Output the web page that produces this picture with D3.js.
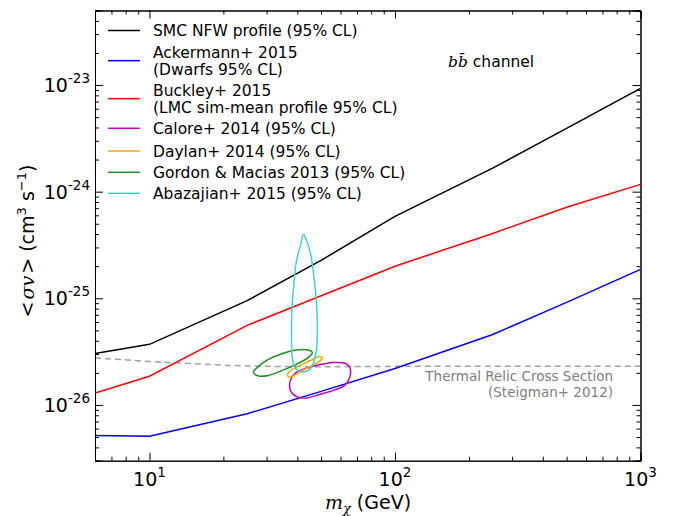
<!DOCTYPE html>
<html><head><meta charset="utf-8">
<script src="https://cdn.jsdelivr.net/npm/d3@7"></script>
<style>body{margin:0;background:#fff} text{font-family:"DejaVu Sans",sans-serif;fill:#000}</style>
</head><body><svg id="c" width="678" height="516"></svg>
<script>
// ---- data ----
const xTickValues = [10, 100, 1000];
const xTickExponents = ["1", "2", "3"];
const yTickValues = [1e-26, 1e-25, 1e-24, 1e-23];
const yTickExponents = ["-26", "-25", "-24", "-23"];

const smcMass  = [6, 10, 25, 50, 100, 250, 500, 1000];
const smcSigma = [3.04e-26, 3.7e-26, 9.5e-26, 2.27e-25, 5.86e-25, 1.66e-24, 3.93e-24, 9.3e-24];

const ackermannMass  = [6, 10, 25, 50, 100, 250, 500, 1000];
const ackermannSigma = [5.18e-27, 5.1e-27, 8.27e-27, 1.34e-26, 2.2e-26, 4.58e-26, 9.15e-26, 1.87e-25];

const buckleyMass  = [6, 10, 25, 100, 250, 500, 1000];
const buckleySigma = [1.29e-26, 1.86e-26, 5.57e-26, 2.0e-25, 4.06e-25, 7.13e-25, 1.17e-24];

const relicMass  = [6, 10, 20, 30, 50, 100, 1000];
const relicSigma = [2.77e-26, 2.55e-26, 2.36e-26, 2.3e-26, 2.28e-26, 2.3e-26, 2.3e-26];

const caloreMass  = [37.5, 39.6, 43.2, 48.7, 56.1, 62.8, 65.5, 65.2, 62.2, 56.1, 49.6, 43.2, 39.6, 37.5];
const caloreSigma = [1.70e-26, 2.02e-26, 2.20e-26, 2.37e-26, 2.50e-26, 2.45e-26, 2.25e-26, 1.77e-26, 1.52e-26, 1.37e-26, 1.26e-26, 1.16e-26, 1.20e-26, 1.37e-26];

const daylanMass  = [36.5, 38.2, 41.9, 46.1, 49.2, 50.6, 49.2, 45.2, 41.2, 38.2, 36.8];
const daylanSigma = [1.93e-26, 2.15e-26, 2.40e-26, 2.67e-26, 2.85e-26, 2.76e-26, 2.56e-26, 2.30e-26, 2.06e-26, 1.85e-26, 1.83e-26];

const gordonMass  = [26.5, 27.8, 30.5, 34.8, 39.6, 44.4, 46.1, 44.4, 39.6, 34.8, 30.5, 27.8];
const gordonSigma = [2.02e-26, 2.30e-26, 2.67e-26, 3.04e-26, 3.28e-26, 3.28e-26, 3.11e-26, 2.79e-26, 2.40e-26, 2.11e-26, 1.89e-26, 1.87e-26];

const abazajianMass  = [42.4, 41.2, 39.6, 38.7, 38.0, 37.9, 38.1, 38.9, 41.2, 45.2, 47.8, 48.3, 47.8, 46.5, 45.2, 43.6];
const abazajianSigma = [3.97e-25, 3.13e-25, 2.17e-25, 1.32e-25, 7.69e-26, 4.49e-26, 2.91e-26, 2.30e-26, 2.05e-26, 2.18e-26, 3.24e-26, 5.0e-26, 9.55e-26, 1.75e-25, 2.7e-25, 3.49e-25];

const legendLabels = [
  ["SMC NFW profile (95% CL)"],
  ["Ackermann+ 2015", "(Dwarfs 95% CL)"],
  ["Buckley+ 2015", "(LMC sim-mean profile 95% CL)"],
  ["Calore+ 2014 (95% CL)"],
  ["Daylan+ 2014 (95% CL)"],
  ["Gordon & Macias 2013 (95% CL)"],
  ["Abazajian+ 2015 (95% CL)"]
];
const seriesColors = ["#000000", "#0000ff", "#ff0000", "#bf00bf", "#ffa500", "#1f8f1f", "#40d0d0"];

// ---- chart ----
const svg = d3.select("#c");
const L = 95, R = 640.5, T = 10.5, B = 460.7;
const x = d3.scaleLog().domain([6, 1000]).range([L, R]);
const y = d3.scaleLog().domain([3e-27, 5e-23]).range([B, T]);

svg.append("defs").append("clipPath").attr("id", "clip")
  .append("rect").attr("x", L).attr("y", T).attr("width", R - L).attr("height", B - T);

const zip = (a, b) => a.map((v, i) => [v, b[i]]);
const line = d3.line().x(d => x(d[0])).y(d => y(d[1]));
const closed = d3.line().x(d => x(d[0])).y(d => y(d[1])).curve(d3.curveCatmullRomClosed.alpha(0.5));

const plot = svg.append("g").attr("clip-path", "url(#clip)");

plot.append("path").attr("d", line(zip(relicMass, relicSigma)))
  .attr("fill", "none").attr("stroke", "#a0a0a0").attr("stroke-width", 1.5).attr("stroke-dasharray", "6,4");

const lineSeries = [[smcMass, smcSigma, 0], [ackermannMass, ackermannSigma, 1], [buckleyMass, buckleySigma, 2]];
lineSeries.forEach(([m, s, c]) => {
  plot.append("path").attr("d", line(zip(m, s)))
    .attr("fill", "none").attr("stroke", seriesColors[c]).attr("stroke-width", 1.5);
});
const contours = [[caloreMass, caloreSigma, 3], [daylanMass, daylanSigma, 4], [gordonMass, gordonSigma, 5], [abazajianMass, abazajianSigma, 6]];
contours.forEach(([m, s, c]) => {
  plot.append("path").attr("d", closed(zip(m, s)))
    .attr("fill", "none").attr("stroke", seriesColors[c]).attr("stroke-width", 1.5);
});

// axes (inward ticks on all sides)
const xMinor = x.ticks().filter(v => !xTickValues.some(t => Math.abs(t - v) / t < 1e-6));
const yMinor = y.ticks().filter(v => !yTickValues.some(t => Math.abs(t - v) / t < 1e-6));
function addAxis(gen, scale, majors, minors, tx, ty) {
  const g1 = svg.append("g").attr("transform", `translate(${tx},${ty})`)
    .call(gen(scale).tickValues(majors).tickSize(-8).tickFormat(""));
  const g2 = svg.append("g").attr("transform", `translate(${tx},${ty})`)
    .call(gen(scale).tickValues(minors).tickSize(-4).tickFormat(""));
  [g1, g2].forEach(g => {
    g.select(".domain").attr("stroke", "#000").attr("stroke-width", 1);
    g.selectAll(".tick line").attr("stroke", "#000").attr("stroke-width", 1);
  });
}
addAxis(d3.axisBottom, x, xTickValues, xMinor, 0, B);
addAxis(d3.axisTop, x, xTickValues, xMinor, 0, T);
addAxis(d3.axisLeft, y, yTickValues, yMinor, L, 0);
addAxis(d3.axisRight, y, yTickValues, yMinor, R, 0);

// tick labels
xTickValues.forEach((v, i) => {
  const t = svg.append("text").attr("x", x(v)).attr("y", 486).attr("text-anchor", "middle").attr("font-size", 19);
  t.append("tspan").text("10");
  t.append("tspan").attr("dy", -9).attr("font-size", 13.5).text(xTickExponents[i]);
});
yTickValues.forEach((v, i) => {
  const t = svg.append("text").attr("x", 90).attr("y", y(v) + 7).attr("text-anchor", "end").attr("font-size", 19);
  t.append("tspan").text("10");
  t.append("tspan").attr("dy", -9).attr("font-size", 13.5).text(yTickExponents[i]);
});

// axis labels
const xl = svg.append("text").attr("x", 368).attr("y", 509).attr("text-anchor", "middle").attr("font-size", 19);
xl.append("tspan").attr("font-family", "DejaVu Serif").attr("font-style", "italic").text("m");
xl.append("tspan").attr("font-family", "DejaVu Serif").attr("font-style", "italic").attr("font-size", 13).attr("dy", 4).text("χ");
xl.append("tspan").attr("dy", -4).text(" (GeV)");

const yl = svg.append("text").attr("transform", "translate(34,241) rotate(-90)").attr("text-anchor", "middle").attr("font-size", 19);
yl.append("tspan").text("<");
yl.append("tspan").attr("dx", 2).attr("font-family", "DejaVu Serif").attr("font-style", "italic").text("σv");
yl.append("tspan").attr("dx", 2).text(">");
yl.append("tspan").text(" (cm");
yl.append("tspan").attr("dy", -8).attr("font-size", 13).text("3");
yl.append("tspan").attr("dy", 8).text(" s");
yl.append("tspan").attr("dy", -8).attr("font-size", 13).text("−1");
yl.append("tspan").attr("dy", 8).text(")");

// legend
const rowY = [[30.5], [52.3, 69], [90, 107.3], [128.3], [151], [172.3], [193.3]];
legendLabels.forEach((lines, i) => {
  const ys = rowY[i];
  const ly = ys.length > 1 ? (ys[0] + ys[1]) / 2 : ys[0];
  svg.append("line").attr("x1", 108).attr("x2", 140).attr("y1", ly).attr("y2", ly)
    .attr("stroke", seriesColors[i]).attr("stroke-width", 1.5);
  lines.forEach((s, j) => {
    svg.append("text").attr("x", 153).attr("y", ys[j] + 5.5).attr("font-size", 15.5).text(s);
  });
});

// annotations
const ch = svg.append("text").attr("x", 448).attr("y", 67).attr("font-size", 15.5);
ch.append("tspan").attr("font-family", "DejaVu Serif").attr("font-style", "italic").text("b");
ch.append("tspan").attr("font-family", "DejaVu Serif").attr("font-style", "italic").text("b\u0304");
ch.append("tspan").text(" channel");

svg.append("text").attr("x", 613).attr("y", 381).attr("text-anchor", "end").attr("font-size", 13.5)
  .style("fill", "#808080").text("Thermal Relic Cross Section");
svg.append("text").attr("x", 613).attr("y", 397).attr("text-anchor", "end").attr("font-size", 13.5)
  .style("fill", "#808080").text("(Steigman+ 2012)");
</script></body></html>
